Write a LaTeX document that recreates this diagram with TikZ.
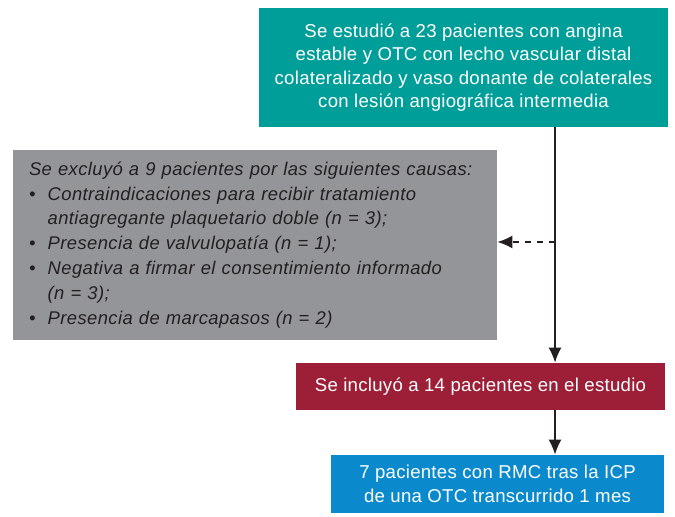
\documentclass[tikz,border=0pt]{standalone}
\usepackage{fontspec}
\setmainfont{Liberation Sans}
\newfontfamily\boxfont[LetterSpace=1.5]{Liberation Sans}
\newfontfamily\notefont[LetterSpace=2.2]{Liberation Sans}
\usetikzlibrary{arrows.meta}
\definecolor{tealbox}{HTML}{009E98}
\definecolor{graybox}{HTML}{939598}
\definecolor{redbox}{HTML}{9C1F37}
\definecolor{bluebox}{HTML}{0A8ACC}
\definecolor{ink}{HTML}{231F20}

\begin{document}
\begin{tikzpicture}[x=0.5pt,y=-0.5pt,
  box/.style={rectangle,inner sep=0pt,align=center,text=white,
    font=\boxfont\fontsize{9.3}{11.75}\selectfont},
  flow/.style={ink,line width=0.75pt,-{Latex[length=7.5pt,width=6.5pt]}}]
\useasboundingbox (0,0) rectangle (675,517);
\node [box,fill=tealbox,minimum width=204.5pt,minimum height=59.5pt] (studied) at (463.5,67.5)
  {Se estudió a 23 pacientes con angina\\estable y OTC con lecho vascular distal\\colateralizado y vaso donante de colaterales\\con lesión angiográfica intermedia};
\node [box,fill=graybox,text=ink,align=left,minimum width=242pt,minimum height=95pt,
  text width=226pt,font=\notefont\fontsize{9.2}{12.45}\selectfont\itshape] (excluded) at (255,245)
  {\mbox{Se excluyó a 9 pacientes por las siguientes causas:}\\
  \textbullet\ \ Contraindicaciones para recibir tratamiento\\
  \phantom{\textbullet\ \ }antiagregante plaquetario doble (n = 3);\\
  \textbullet\ \ Presencia de valvulopatía (n = 1);\\
  \textbullet\ \ Negativa a firmar el consentimiento informado\\
  \phantom{\textbullet\ \ }(n = 3);\\
  \textbullet\ \ Presencia de marcapasos (n = 2)};
\node [box,fill=redbox,minimum width=184.5pt,minimum height=23.5pt] (included) at (480.5,386.5)
  {Se incluyó a 14 pacientes en el estudio};
\node [box,fill=bluebox,minimum width=166.5pt,minimum height=29pt] (followup) at (497.5,484)
  {7 pacientes con RMC tras la ICP\\de una OTC transcurrido 1 mes};
\coordinate (trunk) at (555,0);
\coordinate (split) at (555,242);
\draw [flow] (studied.south -| trunk) -- (included.north -| trunk);
\draw [flow,dashed] (split) -- (split -| excluded.east);
\draw [flow] (included.south -| trunk) -- (followup.north -| trunk);
\end{tikzpicture}
\end{document}
